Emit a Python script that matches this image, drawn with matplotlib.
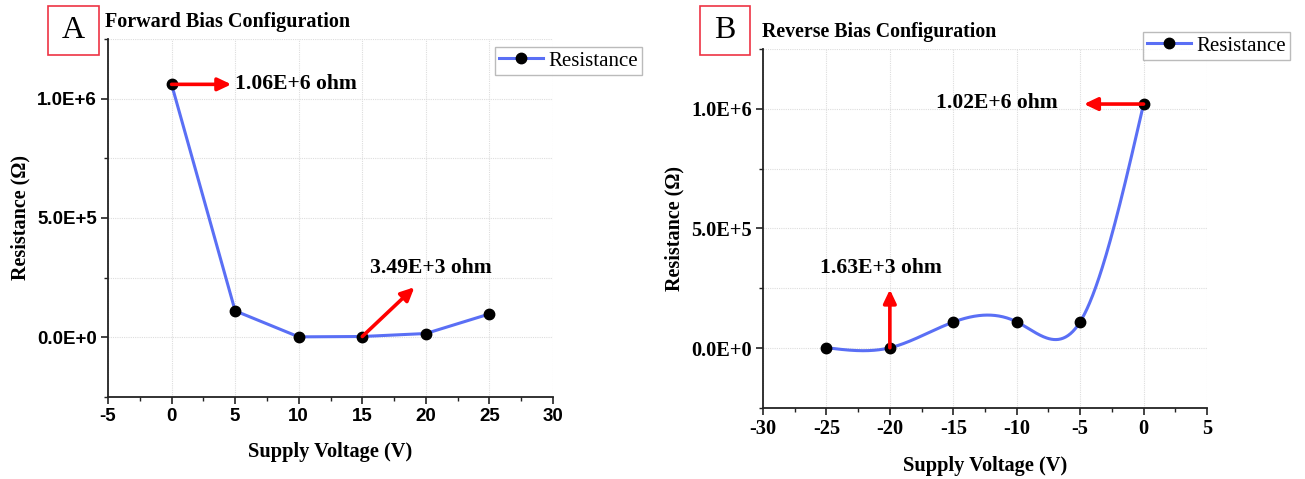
import numpy as np
import matplotlib
matplotlib.use("Agg")
import matplotlib.pyplot as plt
from matplotlib.ticker import MultipleLocator, FuncFormatter
from matplotlib.patches import Rectangle

plt.rcParams["axes.unicode_minus"] = False

# ---------------- data ----------------
fwd_voltage = [0, 5, 10, 15, 20, 25]
fwd_resistance = [1.06e6, 1.11e5, 2.0e3, 3.49e3, 1.6e4, 9.8e4]

rev_voltage = [-25, -20, -15, -10, -5, 0]
rev_resistance = [2.0e3, 1.63e3, 1.09e5, 1.10e5, 1.10e5, 1.02e6]

fwd_ticks = [-5, 0, 5, 10, 15, 20, 25, 30]
rev_ticks = [-30, -25, -20, -15, -10, -5, 0, 5]

LINE_C = "#5a6ff5"
SERIF = "Liberation Serif"
SANS = "Liberation Sans"


def natural_spline(x, y, n=400):
    x = np.asarray(x, float)
    y = np.asarray(y, float)
    k = len(x)
    h = np.diff(x)
    A = np.zeros((k, k))
    b = np.zeros(k)
    A[0, 0] = A[-1, -1] = 1
    for i in range(1, k - 1):
        A[i, i - 1] = h[i - 1]
        A[i, i] = 2 * (h[i - 1] + h[i])
        A[i, i + 1] = h[i]
        b[i] = 3 * ((y[i + 1] - y[i]) / h[i] - (y[i] - y[i - 1]) / h[i - 1])
    c = np.linalg.solve(A, b)
    xs = np.linspace(x[0], x[-1], n)
    ys = np.empty_like(xs)
    for j, xv in enumerate(xs):
        i = min(np.searchsorted(x, xv, side="right") - 1, k - 2)
        dx = xv - x[i]
        bb = (y[i + 1] - y[i]) / h[i] - h[i] * (2 * c[i] + c[i + 1]) / 3
        d = (c[i + 1] - c[i]) / (3 * h[i])
        ys[j] = y[i] + bb * dx + c[i] * dx ** 2 + d * dx ** 3
    return xs, ys


def sci(v, pos):
    if v == 0:
        return "0.0E+0"
    e = int(np.floor(np.log10(abs(v))))
    m = v / 10 ** e
    return f"{m:.1f}E+{e}"


def style_axes(ax, ticks, tickfont, ticksize, xlabelpad):
    for s in ["top", "right"]:
        ax.spines[s].set_visible(False)
    for s in ["left", "bottom"]:
        ax.spines[s].set_color("#222222")
        ax.spines[s].set_linewidth(1.3)
    ax.set_xlim(ticks[0], ticks[-1])
    ax.set_xticks(ticks)
    ax.xaxis.set_minor_locator(MultipleLocator(2.5))
    ax.set_ylim(-2.5e5, 1.25e6)
    ax.set_yticks([0, 5e5, 1e6])
    ax.yaxis.set_minor_locator(MultipleLocator(2.5e5))
    ax.yaxis.set_major_formatter(FuncFormatter(sci))
    ax.tick_params(which="major", direction="out", length=5, width=1.2, colors="#222222", pad=3)
    ax.tick_params(which="minor", direction="out", length=3, width=1.0, colors="#222222")
    for lab in ax.get_xticklabels() + ax.get_yticklabels():
        lab.set_fontfamily(tickfont)
        lab.set_fontweight("bold")
        lab.set_fontsize(ticksize)
        lab.set_color("black")
    ax.grid(True, which="major", axis="x", color="#dddddd", lw=0.8, ls=(0, (1, 1)))
    ax.grid(True, which="both", axis="y", color="#dddddd", lw=0.8, ls=(0, (1, 1)))
    ax.set_axisbelow(True)
    ax.set_xlabel("Supply Voltage (V)", fontfamily=SERIF, fontweight="bold", fontsize=14.7,
                  labelpad=xlabelpad)
    ax.set_ylabel("Resistance (\u03a9)", fontfamily=SERIF, fontweight="bold", fontsize=14.5, labelpad=5)


W, H = 1305, 479
fig = plt.figure(figsize=(W / 100, H / 100), dpi=100)
ARROW = dict(arrowstyle="-|>,head_length=0.8,head_width=0.38", color="#ff0000", lw=2.6,
             shrinkA=0, shrinkB=0)
ANN = dict(fontfamily=SERIF, fontweight="bold", fontsize=15.6, va="center")

# ---------------- panel A ----------------
axA = fig.add_axes([108 / W, 1 - 397 / H, (553 - 108) / W, (397 - 39) / H])
style_axes(axA, fwd_ticks, SANS, 13.5, 12)
axA.plot(fwd_voltage, fwd_resistance, color=LINE_C, lw=2.2, marker="o", ms=7.5,
         mfc="black", mec="black", label="Resistance", zorder=3)
axA.annotate("", xy=(4.7, fwd_resistance[0]), xytext=(fwd_voltage[0], fwd_resistance[0]),
             arrowprops=ARROW, zorder=4)
axA.text(5.0, fwd_resistance[0], "1.06E+6 ohm", ha="left", **ANN)
axA.annotate("", xy=(19.1, 2.1e5), xytext=(fwd_voltage[3], fwd_resistance[3]),
             arrowprops=ARROW, zorder=4)
axA.text(15.6, 2.9e5, "3.49E+3 ohm", ha="left", **ANN)
legA = axA.legend(loc="upper right", bbox_to_anchor=(642 / W, 1 - 47 / H), bbox_transform=fig.transFigure,
                  prop=dict(family=SERIF, size=15), frameon=True, fancybox=False, borderpad=0.2,
                  handlelength=2.1, handletextpad=0.25, borderaxespad=0)
legA.get_frame().set_edgecolor("#aaaaaa")
legA.get_frame().set_linewidth(1.0)

# ---------------- panel B ----------------
axB = fig.add_axes([763 / W, 1 - 408 / H, (1207 - 763) / W, (408 - 49) / H])
style_axes(axB, rev_ticks, SERIF, 14.7, 12)
xs, ys = natural_spline(rev_voltage, rev_resistance)
axB.plot(xs, ys, color=LINE_C, lw=2.2, zorder=3)
axB.plot(rev_voltage, rev_resistance, ls="none", marker="o", ms=7.5, mfc="black", mec="black", zorder=4)
axB.plot([], [], color=LINE_C, lw=2.2, marker="o", ms=7.5, mfc="black", mec="black", label="Resistance")
axB.annotate("", xy=(-4.7, rev_resistance[-1]), xytext=(rev_voltage[-1], rev_resistance[-1]),
             arrowprops=ARROW, zorder=5)
axB.text(-6.8, 1.025e6, "1.02E+6 ohm", ha="right", **ANN)
axB.annotate("", xy=(rev_voltage[1], 2.45e5), xytext=(rev_voltage[1], rev_resistance[1]),
             arrowprops=ARROW, zorder=5)
axB.text(-25.5, 3.35e5, "1.63E+3 ohm", ha="left", **ANN)
legB = axB.legend(loc="upper right", bbox_to_anchor=(1290 / W, 1 - 32 / H), bbox_transform=fig.transFigure,
                  prop=dict(family=SERIF, size=15), frameon=True, fancybox=False, borderpad=0.2,
                  handlelength=2.1, handletextpad=0.25, borderaxespad=0)
legB.get_frame().set_edgecolor("#aaaaaa")
legB.get_frame().set_linewidth(1.0)

# ---------------- panel letters and titles ----------------
for (x0, y0, x1, y1, letter) in [(48, 6, 99, 55, "A"), (700, 6, 750, 55, "B")]:
    fig.patches.append(Rectangle((x0 / W, 1 - y1 / H), (x1 - x0) / W, (y1 - y0) / H,
                                 transform=fig.transFigure, fill=False, ec="#ee3344", lw=1.2))
    fig.text((x0 + x1) / 2 / W, 1 - (y0 + y1) / 2 / H, letter, fontfamily=SERIF, fontsize=23,
             ha="center", va="center")

fig.text(105 / W, 1 - 22 / H, "Forward Bias Configuration", fontfamily=SERIF, fontweight="bold",
         fontsize=14.5, ha="left", va="center")
fig.text(762 / W, 1 - 32 / H, "Reverse Bias Configuration", fontfamily=SERIF, fontweight="bold",
         fontsize=14.3, ha="left", va="center")

fig.savefig("out.png", dpi=100, facecolor="white")
